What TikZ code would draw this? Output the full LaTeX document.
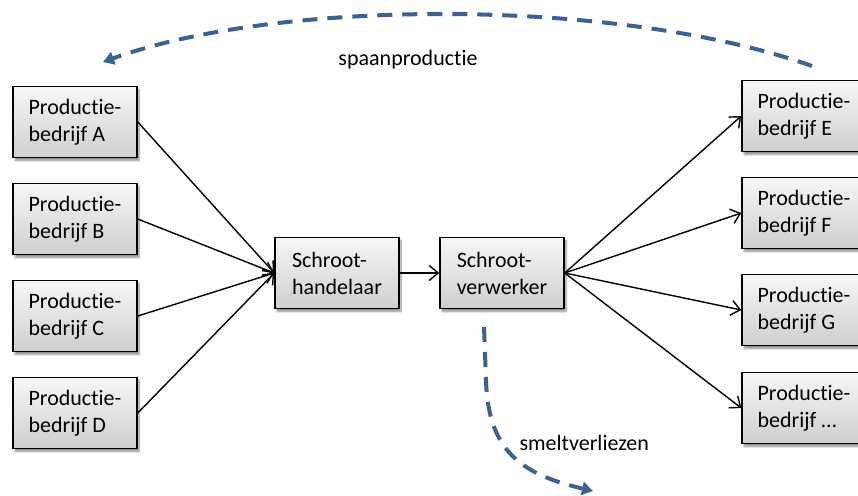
\documentclass[tikz,border=0pt]{standalone}
\usepackage{fontspec}
\setmainfont[Ligatures={NoCommon}]{Carlito}
\usetikzlibrary{arrows.meta,shadows.blur}

\definecolor{flowblue}{RGB}{58,98,146}

\tikzset{
  unitbox/.style={
    draw=black, line width=1.5pt,
    top color=gray!6, bottom color=gray!38,
    minimum width=124pt, minimum height=71pt,
    inner sep=0pt, align=left,
    font=\fontsize{22}{27}\selectfont,
    blur shadow={shadow xshift=2pt, shadow yshift=-3pt,
                 shadow blur steps=6, shadow opacity=45}
  },
  flow/.style={line width=1.4pt, -{Straight Barb[length=9pt,width=15pt,line width=1.4pt]}},
  loss/.style={draw=flowblue, line width=4pt, dash pattern=on 15pt off 10pt,
               -{Triangle[length=11pt,width=13pt]}},
  lbl/.style={font=\fontsize{22}{27}\selectfont}
}

\begin{document}
\begin{tikzpicture}[x=1pt,y=-1pt]
  \useasboundingbox (0,0) rectangle (858,495);

  % producers on the left
  \node[unitbox] (A) at (75,122) {Productie-\\bedrijf A};
  \node[unitbox] (B) at (75,219) {Productie-\\bedrijf B};
  \node[unitbox] (C) at (75,316) {Productie-\\bedrijf C};
  \node[unitbox] (D) at (75,413) {Productie-\\bedrijf D};

  % scrap chain
  \node[unitbox] (H) at (337,273) {Schroot-\\handelaar};
  \node[unitbox] (V) at (502,273) {Schroot-\\verwerker};

  % producers on the right
  \node[unitbox] (E) at (804,116) {Productie-\\bedrijf E};
  \node[unitbox] (F) at (804,213) {Productie-\\bedrijf F};
  \node[unitbox] (G) at (804,310) {Productie-\\bedrijf G};
  \node[unitbox] (X) at (804,408) {Productie-\\bedrijf \dots};

  % material flows
  \foreach \p in {A,B,C,D} \draw[flow] (\p.east) -- (H.west);
  \draw[flow] (H.east) -- (V.west);
  \foreach \p in {E,F,G,X} \draw[flow] (V.east) -- (\p.west);

  % chips returning to the producers
  \coordinate (chipStart) at (812,66);
  \coordinate (chipEnd) at (103,62);
  \draw[loss] (chipStart) .. controls (620,-2) and (280,-2) .. (chipEnd);
  \node[lbl, anchor=base] (spaan) at (408,65) {spaanproductie};

  % melting losses
  \coordinate (meltStart) at (484,327);
  \coordinate (meltBend) at (486,380);
  \coordinate (meltEnd) at (593,491);
  \draw[loss] (meltStart) -- (meltBend) .. controls (488,450) and (520,474) .. (meltEnd);
  \node[lbl, anchor=base west] (smelt) at (516,450) {smeltverliezen};
\end{tikzpicture}
\end{document}
